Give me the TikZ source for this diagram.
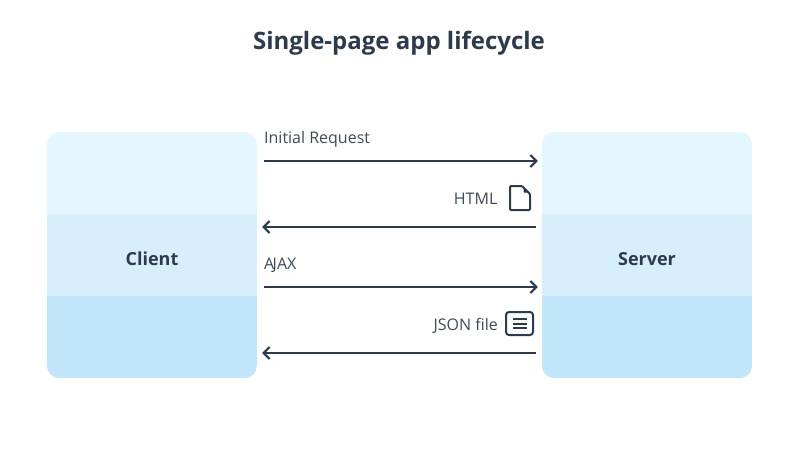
\documentclass[tikz,border=0pt]{standalone}
\usepackage{fontspec}
\setmainfont{Open Sans}
\usepackage{xcolor}
\usetikzlibrary{arrows.meta}
\definecolor{inkdark}{HTML}{2D3A4B}
\definecolor{inklabel}{HTML}{3F4957}
\definecolor{bandtop}{HTML}{E6F6FE}
\definecolor{bandmid}{HTML}{D7EFFC}
\definecolor{bandlow}{HTML}{C1E6FA}
\tikzstyle{panel} = [rectangle, rounded corners=12pt, minimum width=210pt, minimum height=246pt, text centered, text=inkdark, font=\fontsize{18}{22}\selectfont\bfseries, path picture={
    \fill[bandtop, sharp corners] (path picture bounding box.north west) rectangle ([yshift=164pt]path picture bounding box.south east);
    \fill[bandmid, sharp corners] ([yshift=-82pt]path picture bounding box.north west) rectangle ([yshift=82pt]path picture bounding box.south east);
    \fill[bandlow, sharp corners] ([yshift=82pt]path picture bounding box.south west) rectangle (path picture bounding box.south east);}]
\tikzstyle{msg} = [text=inklabel, font=\fontsize{16}{20}\selectfont, inner sep=0pt]
\tikzstyle{arrow} = [line width=2pt, draw=inkdark, -{Straight Barb[length=6pt,width=12pt,line width=2pt]}]
\tikzstyle{icon} = [line width=2pt, draw=inkdark, line join=round]

\begin{document}
\begin{tikzpicture}[x=1pt, y=-1pt]
    \useasboundingbox (0,0) rectangle (800,453);

    \node (title) [anchor=base, text=inkdark, font=\fontsize{24}{30}\selectfont\bfseries, inner sep=0pt] at (399,49) {Single-page app lifecycle};

    \node (client) [panel] at (152,255) {\raisebox{-4pt}[\height][\depth]{Client}};
    \node (server) [panel] at (647,255) {\raisebox{-4pt}[\height][\depth]{Server}};

    \node (initial) [msg, anchor=base west] at (264,143) {Initial Request};
    \node (html) [msg, anchor=base east] at (497.5,204) {HTML};
    \node (ajax) [msg, anchor=base west] at (264,269) {A\kern-1.6pt JAX};
    \node (json) [msg, anchor=base east] at (498,330) {JSON file};

    \draw[arrow] ([xshift=7pt,yshift=94pt]client.east)--([xshift=-4pt,yshift=94pt]server.west);
    \draw[arrow] ([xshift=-6pt,yshift=28pt]server.west)--([xshift=5pt,yshift=28pt]client.east);
    \draw[arrow] ([xshift=7pt,yshift=-32pt]client.east)--([xshift=-4pt,yshift=-32pt]server.west);
    \draw[arrow] ([xshift=-6pt,yshift=-98pt]server.west)--([xshift=5pt,yshift=-98pt]client.east);

    % file icon
    \draw[icon, rounded corners=1pt] (510,186) -- (522,186) -- (530,194) -- (530,210) -- (510,210) -- cycle;
    \draw[line width=1pt, draw=inkdark, fill=inkdark, line join=round] (524,188) -- (524,192) -- (528,192) -- cycle;

    % json icon
    \node (jsonicon) [icon, rectangle, rounded corners=3pt, minimum width=27pt, minimum height=23pt, inner sep=0pt] at (519.5,323.5) {};
    \foreach \ypos in {319,323.5,328}
        \draw[line width=2pt, draw=inkdark] (513,\ypos) -- (527,\ypos);

\end{tikzpicture}
\end{document}
